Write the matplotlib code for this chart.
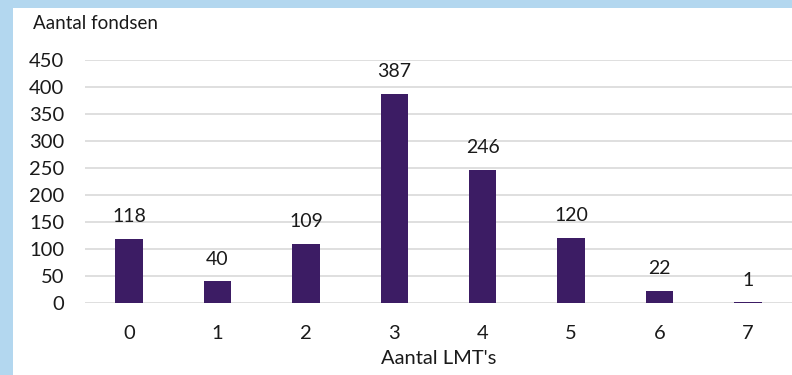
import matplotlib.pyplot as plt
from matplotlib.patches import Rectangle

plt.rcParams['font.family'] = ['Lato', 'DejaVu Sans']

categories = ['0', '1', '2', '3', '4', '5', '6', '7']
counts = [118, 40, 109, 387, 246, 120, 22, 1]
y_ticks = [0, 50, 100, 150, 200, 250, 300, 350, 400, 450]

bar_color = '#3C1C64'
frame_color = '#B3D7EF'
grid_color = '#D9D9D9'
text_color = '#1a1a1a'

fig = plt.figure(figsize=(7.92, 3.75), dpi=100, facecolor=frame_color)
# white panel inside the blue frame
fig.patches.append(Rectangle((13 / 792, 0), 1 - 13 / 792, 1 - 8 / 375,
                             transform=fig.transFigure, facecolor='white',
                             edgecolor='none', zorder=-5))

ax = fig.add_axes([85 / 792, 72 / 375, 1 - 85 / 792, 243 / 375])
ax.set_zorder(2)
ax.set_facecolor('none')

x = range(len(categories))
bars = ax.bar(x, counts, width=0.31, color=bar_color, zorder=3)
for xi, v in zip(x, counts):
    ax.annotate(str(v), (xi, v), xytext=(0, 10), textcoords='offset points',
                ha='center', va='bottom', fontsize=14, color=text_color)

ax.set_xlim(-0.5, len(categories) - 0.5)
ax.set_ylim(0, 450)
ax.set_yticks(y_ticks)
ax.set_xticks(list(x))
ax.set_xticklabels(categories)
ax.tick_params(axis='both', length=0, labelsize=14.5, labelcolor=text_color)
ax.tick_params(axis='y', pad=15)
ax.tick_params(axis='x', pad=16)
ax.grid(axis='y', color=grid_color, linewidth=1.2, zorder=0)
for s in ax.spines.values():
    s.set_visible(False)

ax.set_xlabel("Aantal LMT's", fontsize=14.5, color=text_color, labelpad=5.5)
fig.text(33 / 792, 1 - 23.5 / 375, 'Aantal fondsen', fontsize=13.5,
         ha='left', va='center', color=text_color)

fig.savefig('out.png', dpi=100, facecolor=fig.get_facecolor())
